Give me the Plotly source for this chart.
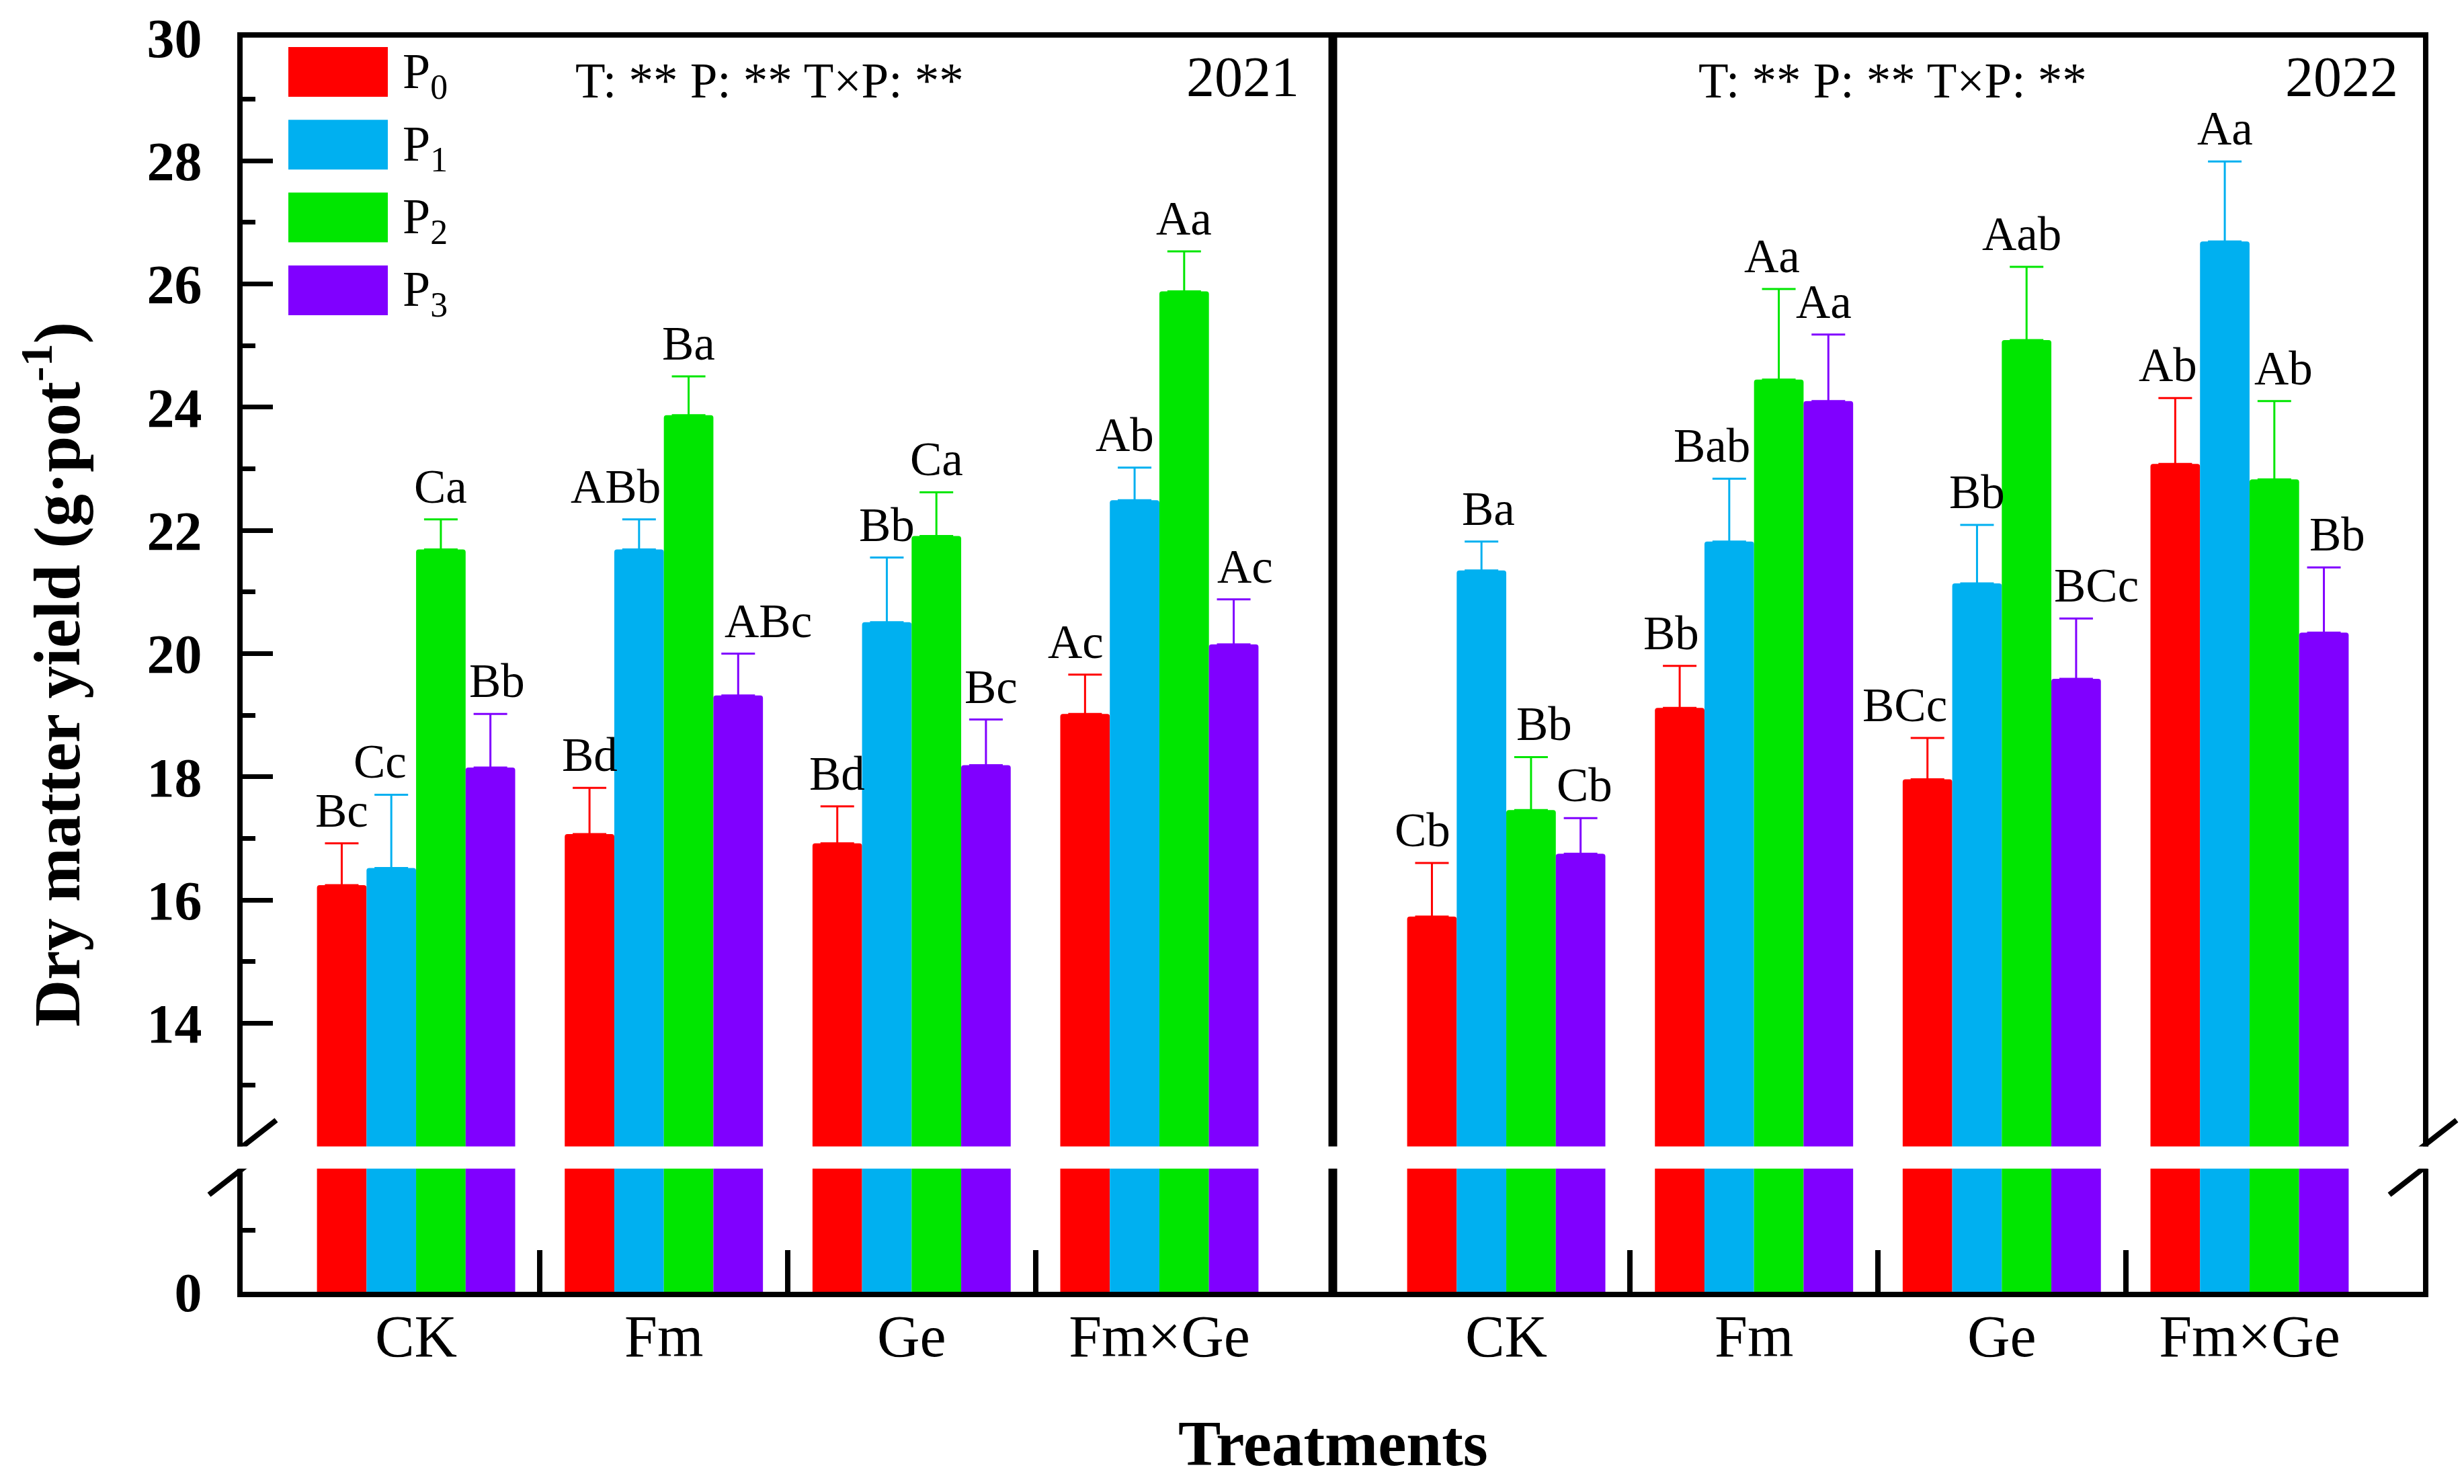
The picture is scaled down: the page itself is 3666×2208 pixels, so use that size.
import plotly.graph_objects as go

# ---------------- data ----------------
treatments = ["CK", "Fm", "Ge", "Fm×Ge"]
years = ["2021", "2022"]
levels = ["P0", "P1", "P2", "P3"]
level_labels = ["P<sub>0</sub>", "P<sub>1</sub>", "P<sub>2</sub>", "P<sub>3</sub>"]
colors = ["#FF0000", "#00B0F0", "#00E600", "#8000FF"]

# means (g/pot) per treatment [CK, Fm, Ge, Fm×Ge]
mean_2021_P0 = [16.24, 17.07, 16.92, 19.02]
mean_2021_P1 = [16.52, 21.69, 20.51, 22.49]
mean_2021_P2 = [21.69, 23.87, 21.91, 25.88]
mean_2021_P3 = [18.15, 19.32, 18.19, 20.15]
mean_2022_P0 = [15.73, 19.12, 17.96, 23.08]
mean_2022_P1 = [21.35, 21.82, 21.14, 26.69]
mean_2022_P2 = [17.46, 24.45, 25.09, 22.83]
mean_2022_P3 = [16.75, 24.10, 19.59, 20.34]

# standard errors
se_2021_P0 = [0.68, 0.75, 0.60, 0.64]
se_2021_P1 = [1.19, 0.49, 1.05, 0.53]
se_2021_P2 = [0.49, 0.63, 0.71, 0.65]
se_2021_P3 = [0.87, 0.68, 0.74, 0.73]
se_2022_P0 = [0.87, 0.68, 0.67, 1.07]
se_2022_P1 = [0.47, 1.02, 0.95, 1.30]
se_2022_P2 = [0.86, 1.47, 1.19, 1.27]
se_2022_P3 = [0.58, 1.08, 0.98, 1.06]

# significance letters
sig_2021_P0 = ["Bc", "Bd", "Bd", "Ac"]
sig_2021_P1 = ["Cc", "ABb", "Bb", "Ab"]
sig_2021_P2 = ["Ca", "Ba", "Ca", "Aa"]
sig_2021_P3 = ["Bb", "ABc", "Bc", "Ac"]
sig_2022_P0 = ["Cb", "Bb", "BCc", "Ab"]
sig_2022_P1 = ["Ba", "Bab", "Bb", "Aa"]
sig_2022_P2 = ["Bb", "Aa", "Aab", "Ab"]
sig_2022_P3 = ["Cb", "Aa", "BCc", "Bb"]

stats_text = "T: ** P: ** T×P: **"
y_ticks_upper = [14, 16, 18, 20, 22, 24, 26, 28, 30]
y_minor_upper = [13, 15, 17, 19, 21, 23, 25, 27, 29]

means = {
    "2021": [mean_2021_P0, mean_2021_P1, mean_2021_P2, mean_2021_P3],
    "2022": [mean_2022_P0, mean_2022_P1, mean_2022_P2, mean_2022_P3],
}
ses = {
    "2021": [se_2021_P0, se_2021_P1, se_2021_P2, se_2021_P3],
    "2022": [se_2022_P0, se_2022_P1, se_2022_P2, se_2022_P3],
}
sigs = {
    "2021": [sig_2021_P0, sig_2021_P1, sig_2021_P2, sig_2021_P3],
    "2022": [sig_2022_P0, sig_2022_P1, sig_2022_P2, sig_2022_P3],
}

# ---------------- layout constants (style) ----------------
W, H = 3666, 2208
ML, MR, MT, MB = 361, 61, 38, 286
PW, PH = W - ML - MR, H - MT - MB
YEAR_GAP = 4.4          # x-units between the two year panels
LOW_RANGE = [0, 2]
UP_RANGE = [12, 30]
unit_px = PH / (LOW_RANGE[1] - LOW_RANGE[0] + UP_RANGE[1] - UP_RANGE[0] + 0.36)
d1 = (LOW_RANGE[1] - LOW_RANGE[0]) * unit_px / PH
d2 = 1 - (UP_RANGE[1] - UP_RANGE[0]) * unit_px / PH
FONT = "Liberation Serif, Times New Roman, serif"
BAR_W = 0.2


def px_x(px):
    return (px - ML) / PW


def px_y(py):
    return (MT + PH - py) / PH


# label x-shifts in px (manual placement in the original)
label_shift = {
    "2021": [[0, 0, 0, -14], [-17, -35, 0, -15], [0, 0, 0, 0], [10, 45, 8, 17]],
    "2022": [[-14, -13, -34, -11], [10, -26, 0, 0], [20, -10, -7, 14], [6, -7, 30, 20]],
}

xpos = [i + j * YEAR_GAP for j in range(len(years)) for i in range(len(treatments))]
xtext = treatments * len(years)
xminor = [i + 0.5 + j * YEAR_GAP for j in range(len(years)) for i in range(len(treatments) - 1)]

fig = go.Figure()
for k, lv in enumerate(levels):
    yvals = [v for yr in years for v in means[yr][k]]
    evals = [v for yr in years for v in ses[yr][k]]
    fig.add_trace(go.Bar(
        x=xpos, y=yvals, name=lv, marker=dict(color=colors[k], line=dict(width=0)),
        xaxis="x", yaxis="y", showlegend=False, hoverinfo="skip"))
    fig.add_trace(go.Bar(
        x=xpos, y=yvals, name=lv, marker=dict(color=colors[k], line=dict(width=0), cornerradius=4),
        error_y=dict(type="data", array=evals, arrayminus=[0] * len(evals), symmetric=False,
                     color=colors[k], thickness=3, width=25),
        xaxis="x2", yaxis="y2", showlegend=False, hoverinfo="skip"))

annotations = []
for j, yr in enumerate(years):
    for k in range(len(levels)):
        for i in range(len(treatments)):
            annotations.append(dict(
                x=i + j * YEAR_GAP + (k - 1.5) * BAR_W, y=means[yr][k][i] + ses[yr][k][i],
                xref="x2", yref="y2", text=sigs[yr][k][i], showarrow=False,
                xanchor="center", yanchor="bottom", yshift=8, xshift=label_shift[yr][k][i],
                font=dict(family=FONT, size=71, color="black")))

# stats and year texts
annotations += [
    dict(x=px_x(854), y=px_y(103), xref="paper", yref="paper", text=stats_text,
         showarrow=False, xanchor="left", yanchor="middle", font=dict(family=FONT, size=73, color="black")),
    dict(x=px_x(2525), y=px_y(103), xref="paper", yref="paper", text=stats_text,
         showarrow=False, xanchor="left", yanchor="middle", font=dict(family=FONT, size=73, color="black")),
    dict(x=px_x(1935), y=px_y(97), xref="paper", yref="paper", text=years[0],
         showarrow=False, xanchor="right", yanchor="middle", font=dict(family=FONT, size=84, color="black")),
    dict(x=px_x(3570), y=px_y(97), xref="paper", yref="paper", text=years[1],
         showarrow=False, xanchor="right", yanchor="middle", font=dict(family=FONT, size=84, color="black")),
    dict(x=px_x(78), y=px_y(995), xref="paper", yref="paper",
         text="<b>Dry matter yield (g·pot<sup>-1</sup>)</b>", textangle=-90,
         showarrow=False, xanchor="center", yanchor="middle", font=dict(family=FONT, size=97, color="black")),
    dict(x=0.5, y=px_y(2206), xref="paper", yref="paper", text="<b>Treatments</b>",
         showarrow=False, xanchor="center", yanchor="bottom", font=dict(family=FONT, size=95, color="black")),
]

shapes = []
# legend swatches + labels
for k, lab in enumerate(level_labels):
    cy = 51 + k * 108.3
    shapes.append(dict(type="rect", xref="paper", yref="paper", xsizemode="pixel", ysizemode="pixel",
                       xanchor=0, yanchor=1, x0=68, x1=216, y0=-(cy - 37), y1=-(cy + 37),
                       fillcolor=colors[k], line=dict(width=0)))
    annotations.append(dict(x=0, y=1, xref="paper", yref="paper", xshift=236, yshift=-cy - 4,
                            text=lab, showarrow=False, xanchor="left", yanchor="middle",
                            font=dict(family=FONT, size=74, color="black")))

# middle divider (broken like the axes)
for y0, y1 in [(0, d1), (d2, 1)]:
    shapes.append(dict(type="line", xref="paper", yref="paper", x0=0.5, x1=0.5, y0=y0, y1=y1,
                       line=dict(color="black", width=13)))
# axis-break slashes
for xa in [0, 1]:
    for yref, ya in [("y2", UP_RANGE[0]), ("y", LOW_RANGE[1])]:
        shapes.append(dict(type="line", xref="paper", yref=yref, xsizemode="pixel", ysizemode="pixel",
                           xanchor=xa, yanchor=ya, x0=-50, x1=50, y0=-39, y1=39,
                           line=dict(color="black", width=8)))

axis_common = dict(showgrid=False, zeroline=False, showline=True, linecolor="black", linewidth=8)

fig.update_layout(
    width=W, height=H, margin=dict(l=ML, r=MR, t=MT, b=MB, pad=0),
    paper_bgcolor="white", plot_bgcolor="white",
    barmode="group", bargap=0.2, bargroupgap=0, hovermode=False,
    xaxis=dict(domain=[0, 1], anchor="y", range=[-0.7, len(treatments) - 1 + YEAR_GAP + 0.7],
               tickmode="array", tickvals=xpos, ticktext=xtext, ticks="", ticklabelstandoff=-18,
               tickfont=dict(family=FONT, size=88, color="black"),
               minor=dict(tickmode="array", tickvals=xminor, ticks="inside", ticklen=62, tickwidth=8,
                          tickcolor="black", showgrid=False),
               **axis_common),
    xaxis2=dict(domain=[0, 1], anchor="y2", matches="x", side="top", showticklabels=False, ticks="",
                **axis_common),
    yaxis=dict(domain=[0, d1], anchor="x", range=LOW_RANGE, tickmode="array", tickvals=[0], ticktext=["0"],
               ticks="", mirror=True, ticklabelstandoff=36, ticklabeloverflow="allow",
               tickfont=dict(family=FONT, size=82, color="black", weight="bold"),
               minor=dict(tickmode="array", tickvals=[1], ticks="inside", ticklen=19, tickwidth=7,
                          tickcolor="black", showgrid=False),
               **axis_common),
    yaxis2=dict(domain=[d2, 1], anchor="x2", range=UP_RANGE, tickmode="array", tickvals=y_ticks_upper,
                ticktext=[str(v) for v in y_ticks_upper], ticks="inside", ticklen=45, tickwidth=7,
                tickcolor="black", mirror=True, ticklabelstandoff=36, ticklabeloverflow="allow",
                tickfont=dict(family=FONT, size=82, color="black", weight="bold"),
                minor=dict(tickmode="array", tickvals=y_minor_upper, ticks="inside", ticklen=19, tickwidth=7,
                           tickcolor="black", showgrid=False),
                **axis_common),
    annotations=annotations,
    shapes=shapes,
    showlegend=False,
)

fig.write_html("out.html", config={"displayModeBar": False},
               post_script="document.body.style.margin='0';document.body.style.overflow='hidden';")
